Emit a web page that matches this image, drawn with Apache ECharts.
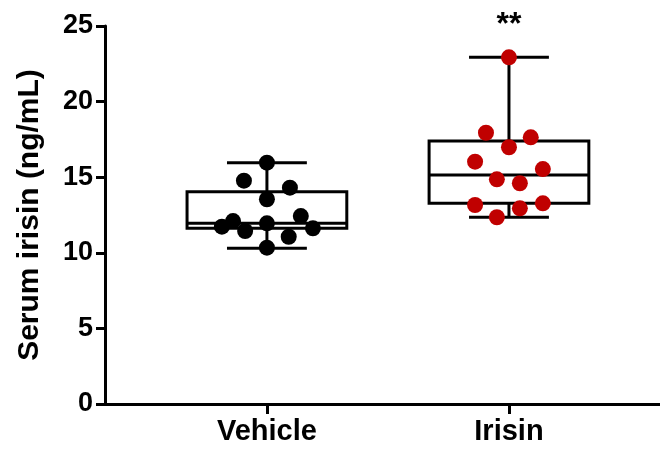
<!DOCTYPE html>
<html>
<head>
<meta charset="utf-8">
<script src="https://cdn.jsdelivr.net/npm/echarts@6/dist/echarts.min.js"></script>
<style>
html,body{margin:0;padding:0;background:#fff;}
#mychart{width:660px;height:450px;}
</style>
</head>
<body>
<div id="mychart"></div>
<script>
// groups and their x position on the value axis
var groups = ['Vehicle', 'Irisin'];
var groupPos = [1, 2];
var groupColor = ['#000000', '#C00000'];
var sigLabel = ['', '**'];

// box stats: min, q1, median, q3, max
var boxMin = [10.3, 12.35];
var boxQ1 = [11.62, 13.27];
var boxMed = [11.95, 15.15];
var boxQ3 = [14.04, 17.39];
var boxMax = [15.95, 22.93];

// individual points (value and horizontal jitter in group units)
var vehicleVals = [15.96, 14.77, 14.31, 13.54, 12.43, 11.73, 12.10, 11.44, 11.95, 11.62, 11.06, 10.34];
var vehicleJitter = [0, -0.095, 0.095, 0, 0.14, -0.186, -0.14, -0.09, 0, 0.19, 0.09, 0];
var irisinVals = [22.93, 17.94, 17.64, 16.98, 16.03, 15.54, 14.86, 14.60, 13.16, 13.27, 12.94, 12.35];
var irisinJitter = [0, -0.095, 0.09, 0, -0.14, 0.14, -0.05, 0.045, -0.14, 0.14, 0.045, -0.05];

var yTicks = [0, 5, 10, 15, 20, 25];

var FONT = '"Liberation Sans", Arial, sans-serif';

function points(vals, jit, g){
	var out = [];
	for (var i = 0; i < vals.length; i++) {
		out.push([groupPos[g] + jit[i], vals[i]]);
	}
	return out;
}

var boxData = [];
for (var g = 0; g < groups.length; g++) {
	boxData.push([groupPos[g], boxMin[g], boxQ1[g], boxMed[g], boxQ3[g], boxMax[g], g]);
}

function renderBox(params, api){
	var x = api.value(0);
	var pMin = api.coord([x, api.value(1)]);
	var pQ1 = api.coord([x, api.value(2)]);
	var pMed = api.coord([x, api.value(3)]);
	var pQ3 = api.coord([x, api.value(4)]);
	var pMax = api.coord([x, api.value(5)]);
	var g = api.value(6);
	var half = api.size([0.33, 0])[0];
	var cap = api.size([0.165, 0])[0];
	var st = {stroke: '#000', lineWidth: 3, fill: null};
	var cx = pMed[0];
	var kids = [
		{type: 'rect', shape: {x: cx - half, y: pQ3[1], width: half * 2, height: pQ1[1] - pQ3[1]},
			style: {stroke: '#000', lineWidth: 3, fill: '#fff'}},
		{type: 'line', shape: {x1: cx, y1: pQ3[1], x2: cx, y2: pMax[1]}, style: st},
		{type: 'line', shape: {x1: cx, y1: pQ1[1], x2: cx, y2: pMin[1]}, style: st},
		{type: 'line', shape: {x1: cx - cap, y1: pMax[1], x2: cx + cap, y2: pMax[1]}, style: st},
		{type: 'line', shape: {x1: cx - cap, y1: pMin[1], x2: cx + cap, y2: pMin[1]}, style: st},
		{type: 'line', shape: {x1: cx - half, y1: pMed[1], x2: cx + half, y2: pMed[1]},
			style: {stroke: '#000', lineWidth: 3}}
	];
	if (sigLabel[g]) {
		kids.push({type: 'text', x: cx, y: pMax[1] - 32,
			style: {text: sigLabel[g], fill: '#000', font: 'bold 32px ' + FONT,
				align: 'center', verticalAlign: 'middle'}});
	}
	return {type: 'group', children: kids};
}

var myChart = echarts.init(document.getElementById('mychart'));
var option = {
	animation: false,
	backgroundColor: '#fff',
	grid: {left: 105, right: 0, top: 26, bottom: 46},
	xAxis: {
		type: 'value',
		min: 0.331,
		max: 2.624,
		splitLine: {show: false},
		axisLine: {show: true, onZero: false, lineStyle: {color: '#000', width: 3}},
		axisTick: {show: true, length: 10, customValues: groupPos, lineStyle: {color: '#000', width: 3}},
		axisLabel: {
			customValues: groupPos,
			margin: 13,
			color: '#000',
			fontSize: 29,
			fontWeight: 'bold',
			fontFamily: FONT,
			formatter: function (v) { return groups[Math.round(v) - 1]; }
		}
	},
	yAxis: {
		type: 'value',
		min: yTicks[0],
		max: yTicks[yTicks.length - 1],
		interval: 5,
		name: 'Serum irisin (ng/mL)',
		nameLocation: 'middle',
		nameGap: 60,
		nameTextStyle: {color: '#000', fontSize: 30, fontWeight: 'bold', fontFamily: FONT},
		splitLine: {show: false},
		axisLine: {show: true, lineStyle: {color: '#000', width: 3}},
		axisTick: {show: true, length: 9, lineStyle: {color: '#000', width: 3}},
		axisLabel: {margin: 12, color: '#000', fontSize: 27, fontWeight: 'bold', fontFamily: FONT}
	},
	series: [
		{
			type: 'custom',
			renderItem: renderBox,
			data: boxData,
			clip: false,
			z: 2
		},
		{
			type: 'scatter',
			data: points(vehicleVals, vehicleJitter, 0),
			symbolSize: 16,
			itemStyle: {color: groupColor[0], opacity: 1},
			z: 5
		},
		{
			type: 'scatter',
			data: points(irisinVals, irisinJitter, 1),
			symbolSize: 16,
			itemStyle: {color: groupColor[1], opacity: 1},
			z: 5
		}
	]
};
myChart.setOption(option, true);
</script>
</body>
</html>
